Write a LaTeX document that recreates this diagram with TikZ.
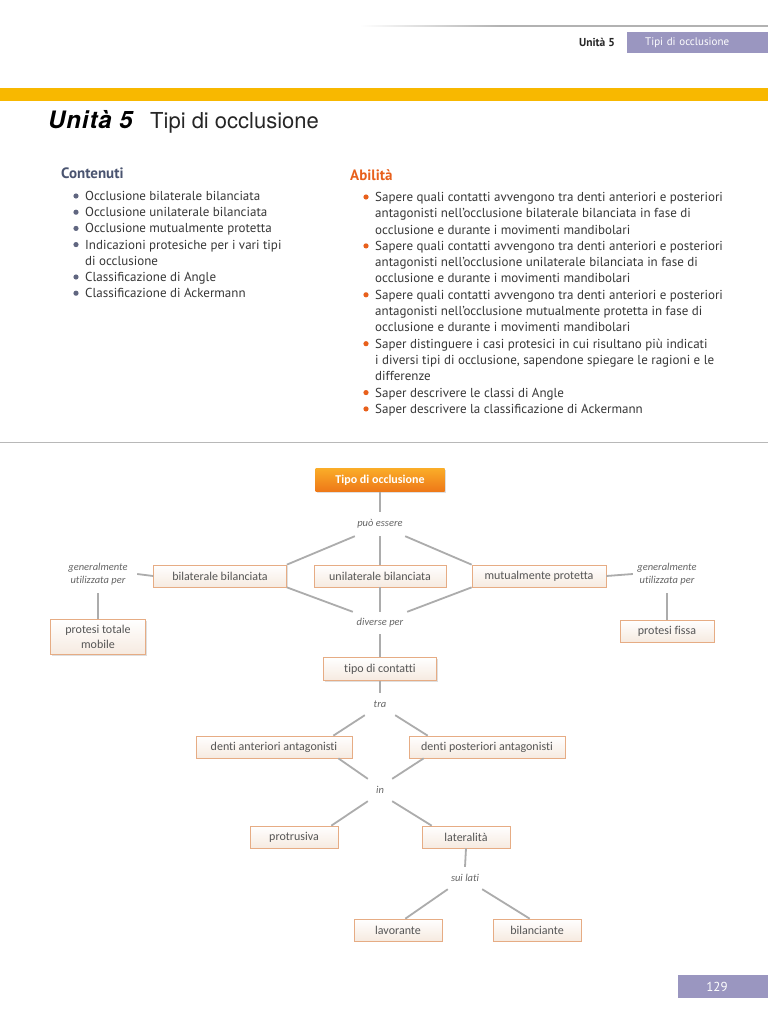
\documentclass[tikz,border=0pt]{standalone}
\usepackage{fontspec}
\setmainfont{PT Sans}
\newfontfamily\mapfont[Ligatures=CommonOff]{Carlito}
\newfontfamily\headfont{TeX Gyre Heros}
\newfontfamily\unitfont[LetterSpace=4]{TeX Gyre Heros}
\usetikzlibrary{positioning,shadows}

\definecolor{barYellow}{RGB}{248,184,0}
\definecolor{hdrPurple}{RGB}{154,150,192}
\definecolor{contBlue}{RGB}{74,84,112}
\definecolor{bulBlue}{RGB}{96,102,128}
\definecolor{abilOrange}{RGB}{232,96,28}
\definecolor{bodyGrey}{RGB}{55,55,55}
\definecolor{boxEdge}{RGB}{230,172,132}
\definecolor{boxFill}{RGB}{246,234,224}
\definecolor{linkGrey}{RGB}{172,172,172}
\definecolor{mapText}{RGB}{85,85,85}

\begin{document}
\begin{tikzpicture}[
    x=1pt, y=-1pt,
    % concetto (riquadro)
    concept/.style={
        draw=boxEdge, line width=0.7pt, top color=white, bottom color=boxFill,
        minimum height=22pt, inner sep=2pt, align=center,
        font=\mapfont\fontsize{12}{13}\selectfont, text=mapText,
        drop shadow={shadow xshift=1.2pt, shadow yshift=-1.2pt, opacity=0.25, fill=black!50}
    },
    % concetto principale
    mainconcept/.style={
        top color={rgb,255:red,250;green,172;blue,40},
        bottom color={rgb,255:red,238;green,120;blue,24},
        minimum width=129pt, minimum height=23pt, text=white,
        font=\mapfont\bfseries\fontsize{12}{13}\selectfont,
        drop shadow={shadow xshift=1.2pt, shadow yshift=-1.2pt, opacity=0.25, fill=black!50}
    },
    % parola di collegamento
    linkword/.style={
        inner sep=0pt, minimum height=22pt, align=center, text=mapText!90,
        font=\mapfont\itshape\fontsize{10.5}{12.5}\selectfont
    },
    % collegamento
    link/.style={-, line width=1.8pt, linkGrey},
    % elenco puntato
    bodylist/.style={anchor=north west, inner sep=0pt, align=left, text=bodyGrey},
]

\useasboundingbox[fill=white] (0,0) rectangle (768,1024);

%% ── intestazione ───────────────────────────────────────
\shade[left color=white, right color=black!30] (360,25.3) rectangle (500,26.8);
\fill[black!30] (500,25.3) rectangle (768,26.8);
\node[font=\bfseries\fontsize{11.5}{13}\selectfont, text=black!85] (hdrunit) at (597,42) {Unità 5};
\node[fill=hdrPurple, anchor=west, minimum height=21pt, text width=105pt, inner xsep=18pt,
      align=left, text=white, font=\fontsize{11}{13}\selectfont] (hdrbox) at (627,42.5) {Tipi di occlusione};

\fill[barYellow] (0,88) rectangle (768,101);

%% ── titolo ─────────────────────────────────────────────
\node[anchor=base west, inner sep=0pt, font=\unitfont\bfseries\itshape\fontsize{24}{26}\selectfont] (unit) at (48,129) {Unità 5};
\node[anchor=base west, inner sep=0pt, text=black!85, font=\headfont\fontsize{22}{26}\selectfont] (title) at (150,129) {Tipi di occlusione};

%% ── contenuti / abilità ────────────────────────────────
\node[anchor=west, inner sep=0pt, text=contBlue, font=\bfseries\fontsize{15}{16}\selectfont] (conth) at (61,173) {Contenuti};
\node[anchor=west, inner sep=0pt, text=abilOrange, font=\bfseries\fontsize{15}{16}\selectfont] (abilh) at (350,175) {Abilità};

\node[bodylist, font=\fontsize{13}{16.2}\selectfont] (cont) at (85,191) {%
    Occlusione bilaterale bilanciata\\
    Occlusione unilaterale bilanciata\\
    Occlusione mutualmente protetta\\
    Indicazioni protesiche per i vari tipi\\
    di occlusione\\
    Classificazione di Angle\\
    Classificazione di Ackermann};

\node[bodylist, font=\fontsize{13}{16.3}\selectfont] (abil) at (375,192) {%
    Sapere quali contatti avvengono tra denti anteriori e posteriori\\
    antagonisti nell’occlusione bilaterale bilanciata in fase di\\
    occlusione e durante i movimenti mandibolari\\
    Sapere quali contatti avvengono tra denti anteriori e posteriori\\
    antagonisti nell’occlusione unilaterale bilanciata in fase di\\
    occlusione e durante i movimenti mandibolari\\
    Sapere quali contatti avvengono tra denti anteriori e posteriori\\
    antagonisti nell’occlusione mutualmente protetta in fase di\\
    occlusione e durante i movimenti mandibolari\\
    Saper distinguere i casi protesici in cui risultano più indicati\\
    i diversi tipi di occlusione, sapendone spiegare le ragioni e le\\
    differenze\\
    Saper descrivere le classi di Angle\\
    Saper descrivere la classificazione di Ackermann};

% punti elenco
\foreach \k in {0,1,2,3,5,6}
    \fill[bulBlue] (76,196+16.2*\k) circle (2.6pt);
\foreach \k in {0,3,6,9,12,13}
    \fill[abilOrange] (366,197+16.3*\k) circle (2.6pt);

\draw[black!28, line width=1pt] (0,442) -- (768,442);

%% ── mappa concettuale ──────────────────────────────────
\node[mainconcept] (tipo) at (380,480) {Tipo di occlusione};
\node[linkword, minimum width=50pt, minimum height=24pt] (pe) at (380,524) {può essere};

\node[concept, minimum width=133pt] (bb) at (220,576) {bilaterale bilanciata};
\node[concept, minimum width=132pt] (ub) at (380,576) {unilaterale bilanciata};
\node[concept, minimum width=134pt] (mp) at (539,576) {mutualmente protetta};

\node[linkword, minimum width=78pt, minimum height=38pt] (gl) at (98,574) {generalmente\\utilizzata per};
\node[linkword, minimum width=68pt, minimum height=38pt] (gr) at (667,574) {generalmente\\utilizzata per};
\node[concept, minimum width=95pt, minimum height=35pt, font=\mapfont\fontsize{12}{15}\selectfont] (ptm) at (98,637) {protesi totale\\mobile};
\node[concept, minimum width=94pt] (pf) at (667,631) {protesi fissa};

\node[linkword, minimum width=54pt] (dv) at (380,623) {diverse per};
\node[concept, minimum width=113pt, minimum height=23pt] (tc) at (380,669) {tipo di contatti};
\node[linkword, minimum width=30pt] (tra) at (380,704) {tra};
\node[concept, minimum width=156pt] (da) at (274,747) {denti anteriori antagonisti};
\node[concept, minimum width=156pt] (dpo) at (487,747) {denti posteriori antagonisti};
\node[linkword, minimum width=24pt] (inn) at (380,790) {in};
\node[concept, minimum width=88pt] (pr) at (294,837) {protrusiva};
\node[concept, minimum width=88pt] (lat) at (466,837) {lateralità};
\node[linkword, minimum width=34pt] (sl) at (465,878) {sui lati};
\node[concept, minimum width=88pt] (lv) at (398,930) {lavorante};
\node[concept, minimum width=88pt] (bc) at (537,930) {bilanciante};

% collegamenti
\draw[link] (tipo.south) -- (pe.north);
\draw[link] (pe.south west) -- (bb.north east);
\draw[link] (pe.south) -- (ub.north);
\draw[link] (pe.south east) -- (mp.north west);
\draw[link] (bb.west) -- (gl.east);
\draw[link] (gl.south) -- (ptm.north);
\draw[link] (mp.east) -- (gr.west);
\draw[link] (gr.south) -- (pf.north);
\draw[link] (bb.south east) -- (dv.north west);
\draw[link] (ub.south) -- (dv.north);
\draw[link] (mp.south west) -- (dv.north east);
\draw[link] (dv.south) -- (tc.north);
\draw[link] (tc.south) -- (tra.north);
\draw[link] (tra.south west) -- ([xshift=-19pt]da.north east);
\draw[link] (tra.south east) -- ([xshift=19pt]dpo.north west);
\draw[link] ([xshift=-14pt]da.south east) -- (inn.north west);
\draw[link] ([xshift=15pt]dpo.south west) -- (inn.north east);
\draw[link] (inn.south west) -- ([xshift=-7pt]pr.north east);
\draw[link] (inn.south east) -- ([xshift=10pt]lat.north west);
\draw[link] (lat.south) -- (sl.north);
\draw[link] (sl.south west) -- ([xshift=-37pt]lv.north east);
\draw[link] (sl.south east) -- ([xshift=37pt]bc.north west);

%% ── numero di pagina ───────────────────────────────────
\node[fill=hdrPurple, minimum width=90pt, minimum height=23pt, text=white,
      font=\fontsize{13}{15}\selectfont] (pg) at (723,986.5) {129\hspace*{12pt}};

\end{tikzpicture}
\end{document}
